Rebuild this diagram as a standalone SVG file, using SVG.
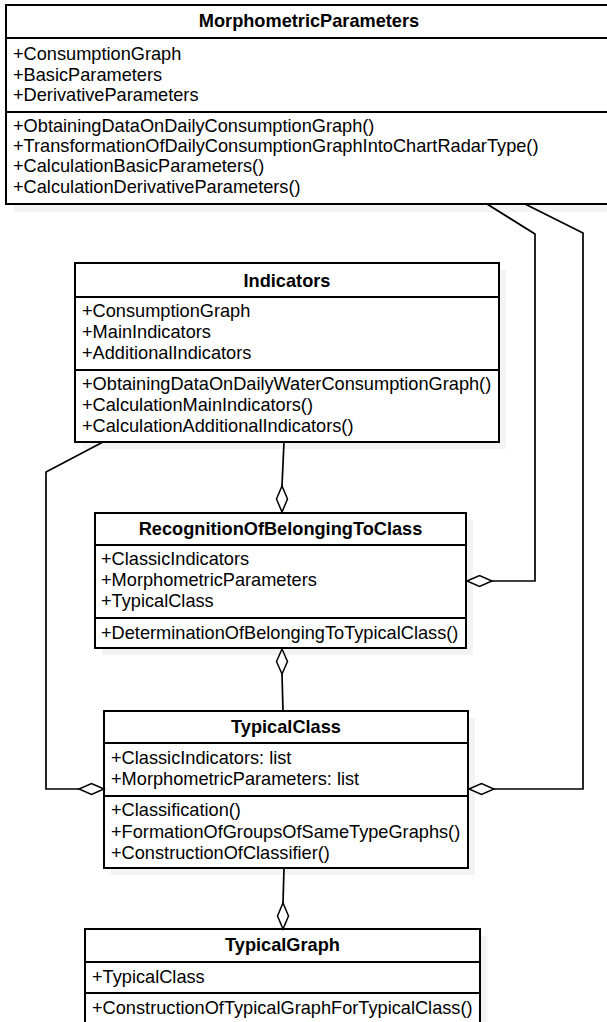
<svg xmlns="http://www.w3.org/2000/svg" width="607" height="1022" viewBox="0 0 607 1022">
<style>
.box{fill:#ffffff;stroke:#000000;stroke-width:2}
.shadow{fill:#f3f3f3;stroke:none}
.sep{stroke:#000000;stroke-width:2}
.t{font-family:"Liberation Sans",Arial,sans-serif;font-size:18.2px;fill:#000000}
.h{font-family:"Liberation Sans",Arial,sans-serif;font-size:18.2px;font-weight:bold;fill:#000000;text-anchor:middle}
.c{fill:none;stroke:#000000;stroke-width:1.7;stroke-linejoin:miter}
.d{fill:#ffffff;stroke:#000000;stroke-width:1.5}
</style>
<rect width="607" height="1022" fill="#ffffff"/>

<g id="MorphometricParameters">
<rect class="shadow" x="14" y="12" width="600" height="200"/>
<rect class="box" x="6" y="5" width="606" height="199"/>
<line class="sep" x1="6" y1="38" x2="612" y2="38"/>
<line class="sep" x1="6" y1="112" x2="612" y2="112"/>
<text class="h" x="309" y="27">MorphometricParameters</text>
<text class="t" x="13" y="60">+ConsumptionGraph</text>
<text class="t" x="13" y="81">+BasicParameters</text>
<text class="t" x="13" y="101">+DerivativeParameters</text>
<text class="t" x="13" y="132">+ObtainingDataOnDailyConsumptionGraph()</text>
<text class="t" x="13" y="152">+TransformationOfDailyConsumptionGraphIntoChartRadarType()</text>
<text class="t" x="13" y="172">+CalculationBasicParameters()</text>
<text class="t" x="13" y="193">+CalculationDerivativeParameters()</text>
</g>

<g id="Indicators">
<rect class="shadow" x="82" y="270" width="424" height="179"/>
<rect class="box" x="75" y="263" width="424" height="179"/>
<line class="sep" x1="75" y1="297" x2="499" y2="297"/>
<line class="sep" x1="75" y1="370" x2="499" y2="370"/>
<text class="h" x="287" y="287">Indicators</text>
<text class="t" x="82" y="317">+ConsumptionGraph</text>
<text class="t" x="82" y="338">+MainIndicators</text>
<text class="t" x="82" y="359">+AdditionalIndicators</text>
<text class="t" x="82" y="390">+ObtainingDataOnDailyWaterConsumptionGraph()</text>
<text class="t" x="82" y="411">+CalculationMainIndicators()</text>
<text class="t" x="82" y="432">+CalculationAdditionalIndicators()</text>
</g>

<g id="RecognitionOfBelongingToClass">
<rect class="shadow" x="102" y="520" width="371" height="135"/>
<rect class="box" x="95" y="513" width="371" height="135"/>
<line class="sep" x1="95" y1="545" x2="466" y2="545"/>
<line class="sep" x1="95" y1="618" x2="466" y2="618"/>
<text class="h" x="280.5" y="535">RecognitionOfBelongingToClass</text>
<text class="t" x="101" y="565">+ClassicIndicators</text>
<text class="t" x="101" y="586">+MorphometricParameters</text>
<text class="t" x="101" y="607">+TypicalClass</text>
<text class="t" x="101" y="639">+DeterminationOfBelongingToTypicalClass()</text>
</g>

<g id="TypicalClass">
<rect class="shadow" x="111" y="718" width="364" height="157"/>
<rect class="box" x="104" y="711" width="364" height="157"/>
<line class="sep" x1="104" y1="743" x2="468" y2="743"/>
<line class="sep" x1="104" y1="796" x2="468" y2="796"/>
<text class="h" x="286" y="733">TypicalClass</text>
<text class="t" x="111" y="764">+ClassicIndicators: list</text>
<text class="t" x="111" y="785">+MorphometricParameters: list</text>
<text class="t" x="111" y="816">+Classification()</text>
<text class="t" x="111" y="838">+FormationOfGroupsOfSameTypeGraphs()</text>
<text class="t" x="111" y="859">+ConstructionOfClassifier()</text>
</g>

<g id="TypicalGraph">
<rect class="shadow" x="92" y="936" width="395" height="100"/>
<rect class="box" x="85" y="929" width="395" height="100"/>
<line class="sep" x1="85" y1="962" x2="480" y2="962"/>
<line class="sep" x1="85" y1="993" x2="480" y2="993"/>
<text class="h" x="282.5" y="951">TypicalGraph</text>
<text class="t" x="92" y="983">+TypicalClass</text>
<text class="t" x="92" y="1014">+ConstructionOfTypicalGraphForTypicalClass()</text>
</g>

<g id="connectors">
<polyline class="c" points="487,204 535,234 535,581 492,581"/>
<path class="d" d="M467,581 L479.5,575.5 L492,581 L479.5,586.5 Z"/>
<polyline class="c" points="525,204 583,233 583,789 494,789"/>
<path class="d" d="M469,789 L481.5,783.5 L494,789 L481.5,794.5 Z"/>
<polyline class="c" points="103,442 46,472 46,789 79,789"/>
<path class="d" d="M104,789 L91.5,783.5 L79,789 L91.5,794.5 Z"/>
<line class="c" x1="284" y1="442" x2="282" y2="486"/>
<path class="d" d="M282,512 L276.5,499 L282,486 L287.5,499 Z"/>
<line class="c" x1="282" y1="674" x2="283" y2="711"/>
<path class="d" d="M282,649 L276.5,661.5 L282,674 L287.5,661.5 Z"/>
<line class="c" x1="284" y1="868" x2="283" y2="903"/>
<path class="d" d="M283,929 L277.5,916 L283,903 L288.5,916 Z"/>
</g>
</svg>
